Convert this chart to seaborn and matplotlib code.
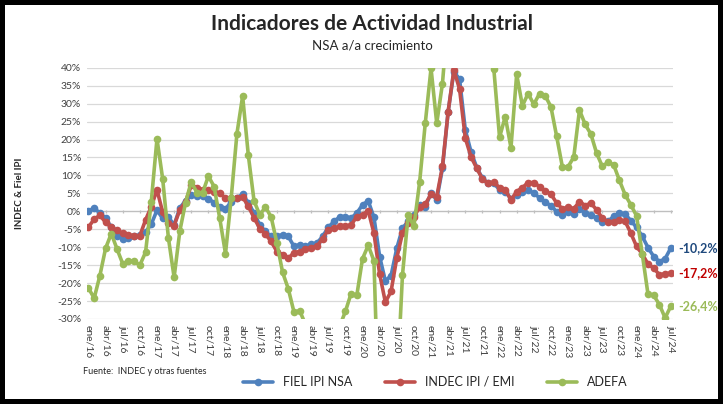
import pandas as pd
import matplotlib
matplotlib.use('Agg')
import matplotlib.pyplot as plt
import seaborn as sns
from matplotlib.lines import Line2D

# meses ene/16 .. jul/24
meses = ['ene', 'feb', 'mar', 'abr', 'may', 'jun', 'jul', 'ago', 'sep', 'oct', 'nov', 'dic']
periodos = [f'{m}/{a}' for a in range(16, 25) for m in meses][:103]

# variacion a/a en %
fiel = [0.1, 0.9, -0.5, -1.9, -4.5, -6.8, -7.7, -7.3, -7.0, -6.7, -5.8, -3.6,
        0.3, -2.0, -1.6, -3.8, 0.9, 3.0, 4.6, 4.4, 4.3, 3.5, 2.4, 1.3,
        0.6, 2.7, 3.8, 4.7, 2.4, -0.5, -3.8, -5.6, -7.0, -7.0, -6.5, -7.0,
        -9.8, -9.3, -9.8, -9.1, -8.9, -7.0, -4.5, -2.8, -1.6, -1.5, -1.9, -0.5,
        1.8, 2.9, -1.7, -12.6, -19.4, -17.9, -10.3, -4.7, -2.8, -1.0, 1.8, 1.3,
        5.0, 3.2, 12.0, 27.8, 38.9, 36.8, 22.7, 16.6, 12.2, 9.2, 7.8, 7.8,
        6.0, 5.5, 3.5, 4.6, 5.5, 6.0, 5.0, 3.8, 2.5, 1.6, -0.1, -1.0,
        -0.1, -0.8, 0.7, -0.5, -1.0, -1.9, -3.1, -2.8, -1.4, -0.5, -0.8, -2.6,
        -4.5, -7.0, -10.1, -12.6, -14.0, -13.2, -10.2]

indec = [-4.4, -2.2, -1.1, -3.1, -4.5, -5.3, -6.1, -6.6, -6.8, -6.8, -2.4, 1.3,
         6.0, -0.3, -3.3, -4.0, 0.4, 2.7, 7.2, 6.6, 6.0, 6.0, 5.5, 5.0,
         3.7, 3.7, 3.8, 4.0, 1.4, -1.8, -4.8, -6.4, -8.4, -11.2, -12.1, -13.1,
         -11.5, -11.2, -10.5, -10.1, -9.8, -7.6, -5.2, -4.7, -4.2, -4.2, -3.8, -1.5,
         -1.0, 0.2, -6.1, -17.5, -25.3, -22.3, -13.0, -6.1, -3.3, -1.7, 1.3, 2.0,
         4.8, 4.1, 12.5, 27.8, 39.4, 34.0, 20.4, 15.2, 12.0, 9.0, 7.8, 8.1,
         6.6, 6.0, 3.2, 5.5, 6.6, 8.0, 8.0, 6.9, 5.7, 4.8, 2.3, 0.7,
         1.1, 0.7, 2.7, 1.6, 2.3, 0.4, -1.9, -3.0, -3.0, -2.4, -2.8, -6.1,
         -9.8, -11.9, -14.7, -15.8, -17.7, -17.4, -17.2]

adefa = [-21.4, -24.2, -17.9, -10.3, -6.2, -10.5, -14.6, -13.9, -13.9, -15.0, -11.4, 2.7,
         20.2, 9.0, -7.4, -18.4, -5.5, 2.4, 8.2, 5.2, 5.2, 9.8, 6.9, -2.0,
         -11.8, 3.7, 21.6, 32.1, 15.6, 2.9, -1.0, 1.2, -1.6, -8.8, -17.0, -21.6,
         -28.1, -27.7, -31.5, -38.0, -40.0, -37.0, -36.0, -38.0, -32.0, -27.9, -22.9, -23.4,
         -13.2, -9.5, -13.8, -65.0, -100.0, -80.0, -50.0, -17.7, -1.0, -4.2, 8.1, 24.7,
         39.8, 24.5, 35.6, 55.0, 200.0, 150.0, 90.0, 60.0, 55.0, 50.0, 42.0, 39.6,
         20.6, 26.4, 17.7, 38.2, 29.4, 32.8, 29.8, 32.8, 32.2, 29.1, 20.9, 12.4,
         12.4, 15.1, 28.2, 24.2, 21.5, 16.2, 12.5, 13.7, 12.9, 8.6, 4.6, 1.8,
         -1.3, -11.9, -23.1, -23.4, -26.0, -29.7, -26.4]

series = ['FIEL IPI NSA', 'INDEC IPI / EMI', 'ADEFA']
colores = {'FIEL IPI NSA': '#4F81BD', 'INDEC IPI / EMI': '#C0504D', 'ADEFA': '#9BBB59'}
color_etiqueta = {'FIEL IPI NSA': '#1F497D', 'INDEC IPI / EMI': '#C00000', 'ADEFA': '#9BBB59'}

df = pd.DataFrame({'n': range(len(periodos)), 'periodo': periodos,
                   'FIEL IPI NSA': fiel, 'INDEC IPI / EMI': indec, 'ADEFA': adefa})
df_long = df.melt(id_vars=['n', 'periodo'], value_vars=series, var_name='serie', value_name='valor')

sns.set_theme(style='white')
plt.rcParams['font.family'] = ['Lato', 'DejaVu Sans']

fig = plt.figure(figsize=(7.23, 4.04), dpi=100)
fig.patch.set_edgecolor('black')
fig.patch.set_linewidth(7)
ax = fig.add_axes([0.120, 0.2104, 0.811, 0.622])

sns.lineplot(data=df_long, x='n', y='valor', hue='serie', hue_order=series, palette=colores,
             marker='o', markersize=5.5, markeredgewidth=0, linewidth=2.6, legend=False, ax=ax)

ax.set_xlim(-0.3, 102.4)
ax.set_ylim(-30, 40)
yt = list(range(-30, 45, 5))
ax.set_yticks(yt)
ax.set_yticklabels([f'{v}%' for v in yt], fontsize=7.5, color='#404040')
ax.set_xticks(df['n'][::3])
ax.set_xticklabels(df['periodo'][::3], rotation=-90, fontsize=7.5, color='#404040', va='top')
ax.tick_params(axis='both', length=0, pad=4)
ax.grid(axis='y', color='#d9d9d9', linewidth=0.9)
ax.axhline(0, color='#bfbfbf', linewidth=0.9, zorder=1)
ax.vlines(df['n'][::3], -0.5, 0.5, color='#bfbfbf', linewidth=0.9, zorder=1)
for s in ax.spines.values():
    s.set_visible(False)
ax.set_xlabel('')
ax.set_ylabel('INDEC & Fiel IPI', fontsize=7, fontweight='bold', labelpad=24)

# etiquetas del ultimo dato
for s, vals in zip(series, [fiel, indec, adefa]):
    ax.annotate(f'{vals[-1]:.1f}%'.replace('.', ','), xy=(df['n'].iloc[-1], vals[-1]),
                xytext=(5, 0), textcoords='offset points', va='center', ha='left',
                fontsize=9, fontweight='bold', color=color_etiqueta[s], annotation_clip=False)

fig.suptitle('Indicadores de Actividad Industrial', x=0.515, y=0.965, fontsize=15, fontweight='bold')
fig.text(0.515, 0.887, 'NSA a/a crecimiento', ha='center', va='center', fontsize=9.5)
fig.text(83 / 723, 1 - 372 / 404, 'Fuente:  INDEC y otras fuentes', fontsize=6.5, va='center')

handles = [Line2D([0], [0], color=colores[s], lw=2.6, marker='o', markersize=5.5, markeredgewidth=0)
           for s in series]
fig.legend(handles, series, loc='center', bbox_to_anchor=(0.602, 1 - 382 / 404), ncol=3,
           frameon=False, fontsize=9, handlelength=2.4, columnspacing=2.6)

fig.savefig('out.png', dpi=100)
